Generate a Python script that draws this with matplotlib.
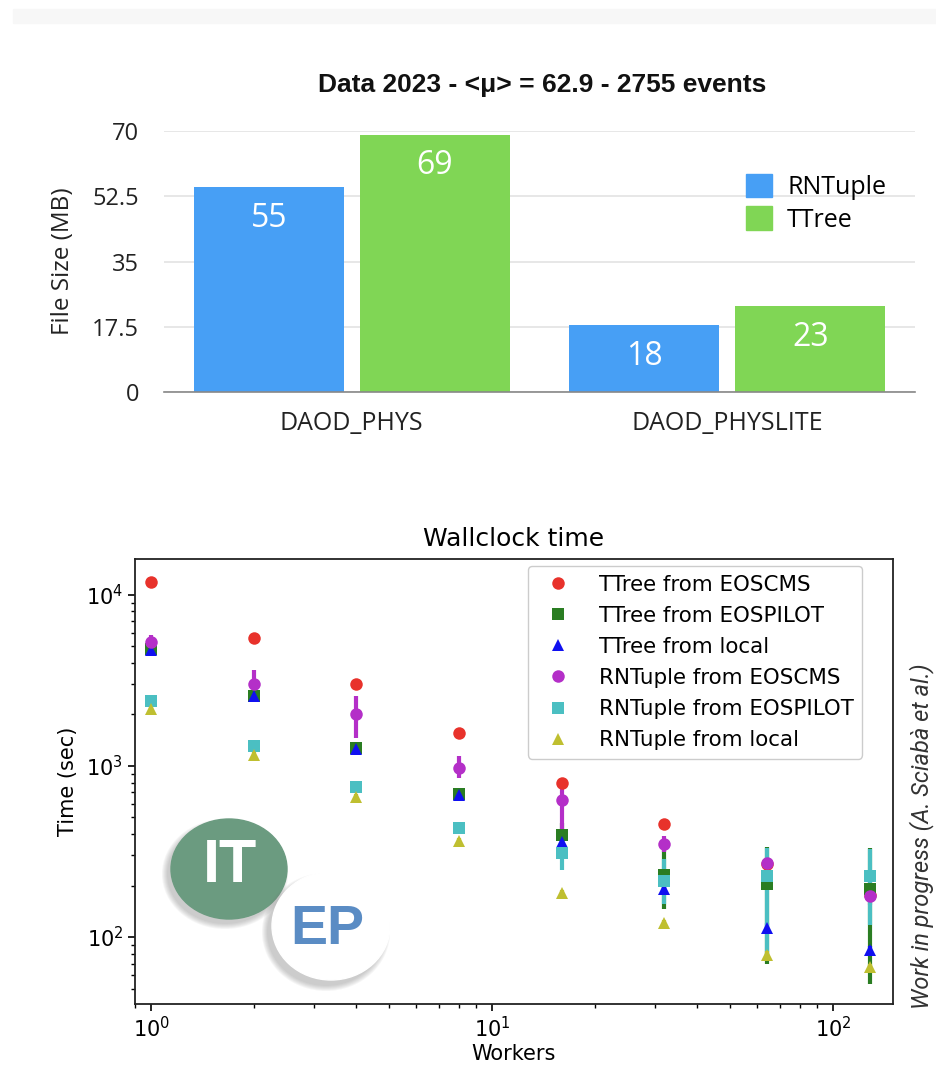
import matplotlib
matplotlib.use("Agg")
import matplotlib.pyplot as plt
from matplotlib.patches import Ellipse, Rectangle, Patch
from matplotlib.lines import Line2D
import numpy as np

# ---------------- data: file size bar chart ----------------
formats = ["DAOD_PHYS", "DAOD_PHYSLITE"]
rntuple_size = [55, 18]
ttree_size = [69, 23]
size_ticks = [0, 17.5, 35, 52.5, 70]
size_ticklabels = ["0", "17.5", "35", "52.5", "70"]
top_title = "Data 2023 - <μ> = 62.9 - 2755 events"

# ---------------- data: wallclock time ----------------
workers = [1, 2, 4, 8, 16, 32, 64, 128]
tt_eoscms = [11900, 5600, 3000, 1560, 800, 455, 268, 176]
tt_eospilot = [4850, 2580, 1280, 690, 395, 230, 205, 190]
tt_local = [4780, 2550, 1260, 680, 357, 190, 113, 84]
rn_eoscms = [5300, 3000, 2000, 975, 630, 352, 270, 174]
rn_eospilot = [2400, 1300, 750, 432, 310, 212, 228, 228]
rn_local = [2150, 1160, 660, 362, 181, 120, 79, 67]

tt_eoscms_err_lo = [0, 0, 0, 0, 0, 0, 0, 0]
tt_eoscms_err_hi = [0, 0, 0, 0, 0, 0, 0, 0]
tt_eospilot_err_lo = [150, 120, 60, 30, 70, 85, 135, 137]
tt_eospilot_err_hi = [150, 120, 60, 30, 70, 95, 130, 140]
tt_local_err_lo = [100, 60, 30, 15, 20, 15, 8, 5]
tt_local_err_hi = [100, 60, 30, 15, 20, 15, 8, 5]
rn_eoscms_err_lo = [400, 500, 550, 130, 250, 40, 25, 20]
rn_eoscms_err_hi = [500, 650, 550, 170, 220, 40, 25, 20]
rn_eospilot_err_lo = [60, 60, 40, 20, 65, 55, 155, 110]
rn_eospilot_err_hi = [60, 80, 50, 25, 45, 75, 105, 100]
rn_local_err_lo = [50, 40, 30, 15, 8, 5, 4, 3]
rn_local_err_hi = [50, 40, 30, 15, 8, 5, 4, 3]

series_labels = ["TTree from EOSCMS", "TTree from EOSPILOT", "TTree from local",
                 "RNTuple from EOSCMS", "RNTuple from EOSPILOT", "RNTuple from local"]

W, H = 937, 1074
fig = plt.figure(figsize=(W / 100, H / 100), dpi=100)

def fx(px):
    return px / W

def fy(py):
    return 1 - py / H

# light grey band at very top
fig.add_artist(Rectangle((fx(13), fy(23)), 1 - fx(13), (23 - 9) / H,
                         transform=fig.transFigure, color="#f7f7f7", zorder=0))

# ================= top bar chart =================
ax1 = fig.add_axes([fx(164), fy(392), fx(915) - fx(164), (392 - 131) / H])
x = np.arange(len(formats))
bw = 0.4
off = 0.221
blue = "#479ff5"
green = "#80d655"
b1 = ax1.bar(x - off, rntuple_size, bw, color=blue, zorder=3, label="RNTuple")
b2 = ax1.bar(x + off, ttree_size, bw, color=green, zorder=3, label="TTree")
for bars, vals in ((b1, rntuple_size), (b2, ttree_size)):
    for r, v in zip(bars, vals):
        ax1.annotate(str(v), (r.get_x() + r.get_width() / 2, r.get_height()),
                     xytext=(0, -22.5), textcoords="offset points",
                     ha="center", va="center", color="white",
                     fontsize=23, family="Open Sans", zorder=4)
ax1.set_xlim(-0.5, 1.5)
ax1.set_ylim(0, 70)
ax1.set_yticks(size_ticks)
ax1.set_yticklabels(size_ticklabels)
ax1.set_xticks(x)
ax1.set_xticklabels(formats)
ax1.tick_params(axis="both", length=0, colors="#222222")
ax1.tick_params(axis="y", pad=18, labelsize=17)
ax1.tick_params(axis="x", pad=14, labelsize=18)
for lab in ax1.get_xticklabels() + ax1.get_yticklabels():
    lab.set_family("Open Sans")
ax1.yaxis.grid(True, color="#e3e3e3", linewidth=1.2, zorder=0)
for s in ["top", "right", "left"]:
    ax1.spines[s].set_visible(False)
ax1.spines["bottom"].set_color("#888888")
ax1.spines["bottom"].set_linewidth(1.2)
ax1.spines["bottom"].set_zorder(5)
ax1.set_ylabel("File Size (MB)", fontsize=17.5, family="Open Sans", color="#222222", labelpad=12)
fig.text(fx(542), fy(85), top_title, ha="center", va="center", fontsize=19,
         fontweight="bold", family=["Liberation Sans Narrow", "Liberation Sans"], color="#111111")
ax1.legend(handles=[Patch(color=blue, label="RNTuple"), Patch(color=green, label="TTree")],
           loc="upper left", bbox_to_anchor=((746 - 164) / 751, (392 - 174) / 261),
           frameon=False, handlelength=1.05, handleheight=1.05, handletextpad=0.6,
           labelspacing=0.25, borderaxespad=0, borderpad=0,
           prop={"family": "Open Sans", "size": 18})

# ================= bottom scatter =================
ax2 = fig.add_axes([fx(135), fy(1004), fx(893) - fx(135), (1004 - 559) / H])
ax2.set_xscale("log")
ax2.set_yscale("log")

styles = [
    (tt_eoscms, tt_eoscms_err_lo, tt_eoscms_err_hi, "o", "#e8322b"),
    (tt_eospilot, tt_eospilot_err_lo, tt_eospilot_err_hi, "s", "#2a7d22"),
    (tt_local, tt_local_err_lo, tt_local_err_hi, "^", "#1010f0"),
    (rn_eoscms, rn_eoscms_err_lo, rn_eoscms_err_hi, "o", "#b42fc8"),
    (rn_eospilot, rn_eospilot_err_lo, rn_eospilot_err_hi, "s", "#4bbfc2"),
    (rn_local, rn_local_err_lo, rn_local_err_hi, "^", "#bfbf30"),
]
handles = []
for (vals, lo, hi, mk, col), lab in zip(styles, series_labels):
    ax2.errorbar(workers, vals, yerr=[lo, hi], fmt=mk, color=col, ecolor=col,
                 elinewidth=3, capsize=0, markersize=9, markeredgewidth=0, zorder=3)
    handles.append(Line2D([], [], linestyle="none", marker=mk, color=col,
                          markersize=9, markeredgewidth=0, label=lab))

ax2.set_xlim(0.897, 150)
ax2.set_ylim(40.6, 16200)
ax2.tick_params(axis="both", which="major", labelsize=15, length=5, width=1.2)
ax2.tick_params(axis="both", which="minor", length=3, width=1)
for s in ax2.spines.values():
    s.set_linewidth(1.3)
    s.set_color("#222222")
ax2.set_title("Wallclock time", fontsize=18, pad=9)
ax2.set_xlabel("Workers", fontsize=15, labelpad=2)
ax2.set_ylabel("Time (sec)", fontsize=15, labelpad=6)
ax2.legend(handles=handles, loc="upper right",
           bbox_to_anchor=((862 - 135) / 758, (1004 - 566) / 445),
           borderaxespad=0, fontsize=15.4, labelspacing=0.52, handletextpad=0.9,
           numpoints=1, framealpha=1, edgecolor="#cccccc")

# IT / EP logos (soft shadows built from faint layers)
for k in range(6):
    fig.add_artist(Ellipse((fx(225), fy(874)), (116 + 2 * k) / W, (100 + 2 * k) / H,
                           transform=fig.transFigure, color="#777777", alpha=0.07,
                           linewidth=0, zorder=6))
fig.add_artist(Ellipse((fx(229), fy(869)), 116 / W, 100 / H, transform=fig.transFigure,
                       color="#6b9b80", zorder=7))
fig.text(fx(230), fy(866), "IT", ha="center", va="center", color="white",
         fontsize=44, fontweight="bold", family="Liberation Sans", zorder=8)
for k in range(6):
    fig.add_artist(Ellipse((fx(326), fy(932)), (118 + 2 * k) / W, (108 + 2 * k) / H,
                           transform=fig.transFigure, color="#777777", alpha=0.07,
                           linewidth=0, zorder=9))
fig.add_artist(Ellipse((fx(331), fy(926)), 118 / W, 108 / H, transform=fig.transFigure,
                       color="white", zorder=10))
fig.text(fx(327), fy(930), "EP", ha="center", va="center", color="#5a8cc4",
         fontsize=40, fontweight="bold", family="Liberation Sans", zorder=11)

# side note
fig.text(fx(922), fy(836), "Work in progress (A. Sciabà et al.)", rotation=90,
         ha="center", va="center", fontsize=17, style="italic",
         family="Roboto", color="#333333")

fig.savefig("out.png", dpi=100)
